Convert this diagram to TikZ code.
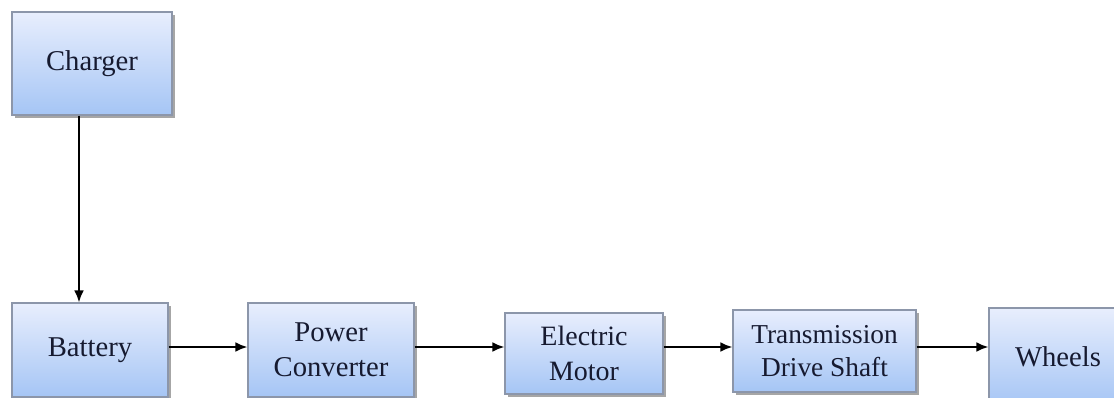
\documentclass[tikz,border=0pt]{standalone}
\usepackage{fontspec}
\setmainfont{Liberation Serif}
\usetikzlibrary{arrows.meta,shadows}
\definecolor{boxtop}{RGB}{232,238,253}
\definecolor{boxbot}{RGB}{165,197,245}
\definecolor{boxline}{RGB}{140,150,170}
\definecolor{txt}{RGB}{22,26,48}
\tikzset{
  blk/.style={draw=boxline, line width=0.8pt, top color=boxtop, bottom color=boxbot,
    inner sep=0pt, align=center, text=txt,
    font=\fontsize{21.5}{26}\selectfont,
    drop shadow={shadow xshift=2pt, shadow yshift=-2pt, fill=black, opacity=0.35}},
  flow/.style={line width=1.9pt, -{Latex[length=9pt,width=7.5pt]}}
}
\begin{document}
\begin{tikzpicture}[x=0.75pt,y=-0.75pt]
\useasboundingbox (0,0) rectangle (1114,397);
\node[blk, minimum width=120pt, minimum height=77.25pt] (ch) at (92,63.5) {Charger};
\node[blk, minimum width=117pt, minimum height=70.5pt] (bat) at (90,350) {Battery};
\node[blk, minimum width=124.5pt, minimum height=70.5pt] (pc) at (331,350) {Power\\Converter};
\node[blk, minimum width=118.5pt, minimum height=60.75pt, font=\fontsize{21}{26}\selectfont] (em) at (584,353.5) {Electric\\Motor};
\node[blk, minimum width=137.25pt, minimum height=61.5pt, font=\fontsize{20.5}{25}\selectfont] (tds) at (824.5,351) {Transmission\\Drive Shaft};
\node[blk, minimum width=103.5pt, minimum height=73.5pt] (wh) at (1058,357) {Wheels};
\coordinate (ya) at (0,347);
\coordinate (xa) at (79,0);
\draw[flow] (ch.south -| xa) -- (bat.north -| xa);
\draw[flow] (bat.east |- ya) -- (pc.west |- ya);
\draw[flow] (pc.east |- ya) -- (em.west |- ya);
\draw[flow] (em.east |- ya) -- (tds.west |- ya);
\draw[flow] (tds.east |- ya) -- (wh.west |- ya);
\end{tikzpicture}
\end{document}
